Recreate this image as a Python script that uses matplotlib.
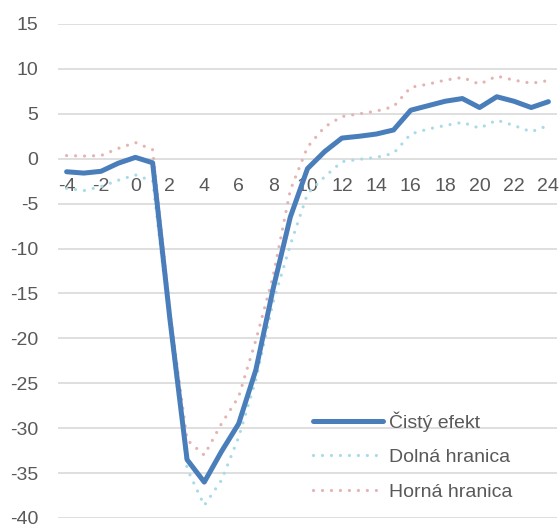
import matplotlib
matplotlib.use("Agg")
import matplotlib.pyplot as plt
from matplotlib import font_manager

months = list(range(-4, 25))
cisty_efekt = [-1.45, -1.6, -1.4, -0.5, 0.15, -0.45, -17.8, -33.5, -36.0, -32.6, -29.5, -23.5,
               -14.5, -6.5, -1.1, 0.8, 2.3, 2.5, 2.75, 3.2, 5.4, 5.9, 6.4, 6.7, 5.7, 6.9, 6.4, 5.7, 6.35]
dolna_hranica = [-3.3, -3.55, -3.1, -2.4, -1.8, -2.5, -18.5, -34.5, -38.6, -35.8, -31.0, -24.6,
                 -16.0, -9.6, -3.9, -2.0, -0.33, -0.07, 0.15, 0.6, 2.75, 3.3, 3.7, 4.05, 3.4, 4.3, 3.7, 3.0, 3.7]
horna_hranica = [0.35, 0.3, 0.35, 1.15, 1.8, 1.0, -17.0, -31.3, -33.0, -29.5, -26.5, -20.2,
                 -13.1, -3.5, 1.3, 3.55, 4.7, 5.0, 5.3, 5.8, 7.95, 8.3, 8.75, 9.05, 8.3, 9.2, 8.75, 8.4, 8.7]
labels = ["Čistý efekt", "Dolná hranica", "Horná hranica"]
xticks = list(range(-4, 25, 2))
yticks = list(range(-40, 16, 5))

names = {f.name for f in font_manager.fontManager.ttflist}
fam = "Liberation Sans Narrow" if "Liberation Sans Narrow" in names else "Liberation Sans"
plt.rcParams['font.family'] = [fam, 'DejaVu Sans']
plt.rcParams['axes.unicode_minus'] = False

txt = "#595959"
fig = plt.figure(figsize=(5.59, 5.24), dpi=100)
ax = fig.add_axes([58/559, 1-518/524, (557-58)/559, (518-24)/524])

ax.plot(months, cisty_efekt, color="#4a7ebb", lw=3.6, solid_capstyle='round', solid_joinstyle='round', label=labels[0], zorder=3)
ax.plot(months, dolna_hranica, color="#a8dbe8", lw=2.3, linestyle=(0, (0.01, 2.8)), dash_capstyle='round', label=labels[1], zorder=2)
ax.plot(months, horna_hranica, color="#e6b3b3", lw=2.3, linestyle=(0, (0.01, 2.8)), dash_capstyle='round', label=labels[2], zorder=2)

ax.set_xlim(-4.5, 24.5)
ax.set_ylim(-40, 15)
ax.set_yticks(yticks)
ax.set_xticks(xticks)
ax.grid(axis='y', color="#d9d9d9", lw=1.2)
ax.set_axisbelow(True)
for s in ax.spines.values():
    s.set_visible(False)
ax.spines['bottom'].set_position(('data', 0))
ax.tick_params(axis='both', length=0, labelsize=14, colors=txt)
ax.tick_params(axis='y', pad=14)
ax.tick_params(axis='x', pad=14)

leg = ax.legend(loc='upper left', bbox_to_anchor=(313/559, 1-411/524), bbox_transform=fig.transFigure,
                frameon=False, fontsize=14, handlelength=3.6, handletextpad=0.3, labelspacing=0.88,
                borderpad=0, borderaxespad=0)
for t in leg.get_texts():
    t.set_color(txt)

fig.savefig("out.png", dpi=100)
